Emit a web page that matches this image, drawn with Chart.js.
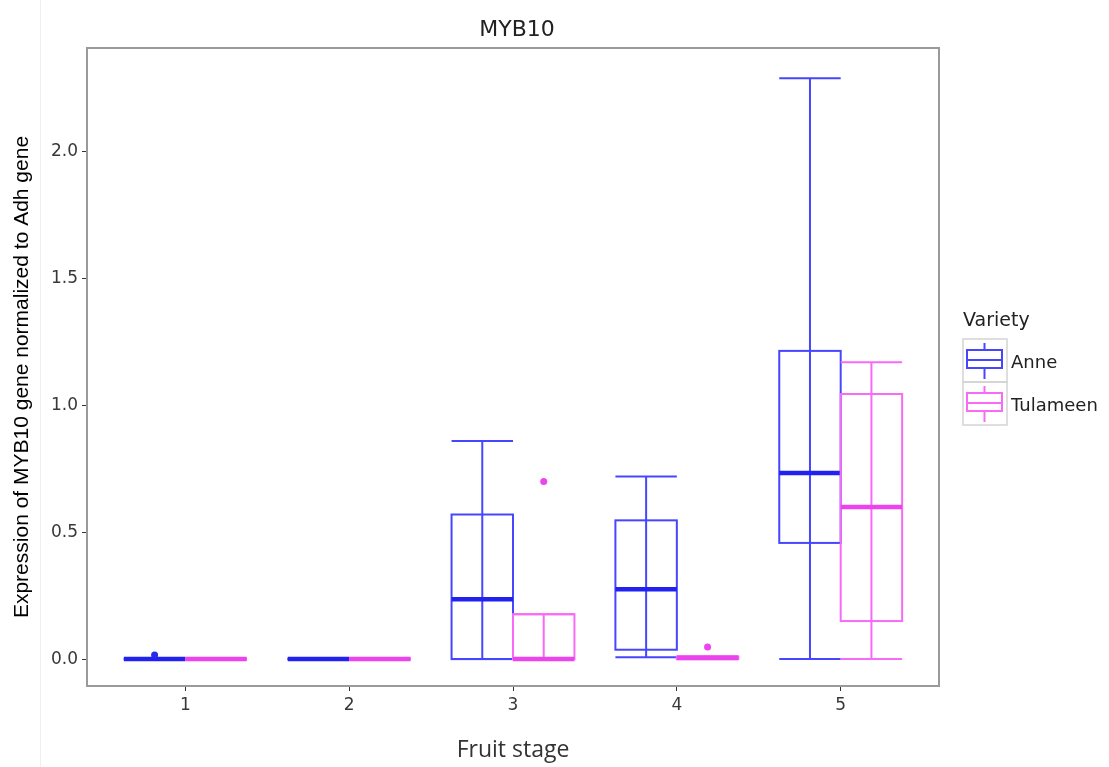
<!DOCTYPE html>
<html>
<head>
<meta charset="utf-8">
<script src="https://cdn.jsdelivr.net/npm/chart.js@4.4.0/dist/chart.umd.min.js"></script>
<style>
  body { margin: 0; background: #fff; }
  #wrap { position: relative; width: 1109px; height: 767px; }
  #edge { position: absolute; left: 40px; top: 0; width: 1px; height: 767px; background: #f0f0f0; }
  canvas { position: absolute; left: 0; top: 0; }
</style>
</head>
<body>
<div id="wrap">
  <div id="edge"></div>
  <canvas id="chart" width="1109" height="767"></canvas>
</div>
<script>
// stages on the x axis
const stages = [1, 2, 3, 4, 5];
const stageLabels = ['1', '2', '3', '4', '5'];
const yTicks = [0, 0.5, 1.0, 1.5, 2.0];
const varieties = ['Anne', 'Tulameen'];
const yTitle = 'Expression of MYB10 gene normalized to Adh gene';

// Anne box stats (whisker low, Q1, median, Q3, whisker high)
const anneMin = [0, 0, 0, 0.007, 0];
const anneQ1  = [0, 0, 0, 0.037, 0.458];
const anneMed = [0, 0, 0.236, 0.275, 0.734];
const anneQ3  = [0, 0, 0.570, 0.547, 1.215];
const anneMax = [0, 0, 0.860, 0.720, 2.290];
const anneOutStage = [1];
const anneOutVal = [0.016];

// Tulameen box stats
const tulMin = [0, 0, 0, 0, 0];
const tulQ1  = [0, 0, 0, 0, 0.150];
const tulMed = [0, 0, 0, 0.004, 0.600];
const tulQ3  = [0, 0, 0.177, 0.010, 1.045];
const tulMax = [0, 0, 0.177, 0.012, 1.170];
const tulOutStage = [3, 4];
const tulOutVal = [0.700, 0.048];

// look
const dodge = 0.1875;   // centre offset of each box from the stage
const halfW = 0.1875;   // half box width (x units)
const edgeCol = ['#4646ff', '#f86af8'];
const medCol = ['#2222f0', '#ec44ec'];
const ptCol = ['#2a2aee', '#ee44ee'];

const boxStats = [
  { min: anneMin, q1: anneQ1, med: anneMed, q3: anneQ3, max: anneMax },
  { min: tulMin, q1: tulQ1, med: tulMed, q3: tulQ3, max: tulMax }
];

function hline(ctx, x1, x2, y) { ctx.beginPath(); ctx.moveTo(x1, y); ctx.lineTo(x2, y); ctx.stroke(); }
function vline(ctx, x, y1, y2) { ctx.beginPath(); ctx.moveTo(x, y1); ctx.lineTo(x, y2); ctx.stroke(); }

// draws the boxes through the chart scales
const boxPlugin = {
  id: 'boxes',
  beforeDatasetsDraw(chart) {
    const ctx = chart.ctx;
    const xs = chart.scales.x, ys = chart.scales.y;
    ctx.save();
    ctx.lineCap = 'butt';
    stages.forEach((st, i) => {
      boxStats.forEach((b, v) => {
        const c = st + (v === 0 ? -dodge : dodge);
        const xl = xs.getPixelForValue(c - halfW);
        const xr = xs.getPixelForValue(c + halfW);
        const xc = xs.getPixelForValue(c);
        const yMin = ys.getPixelForValue(b.min[i]);
        const yQ1 = ys.getPixelForValue(b.q1[i]);
        const yMed = ys.getPixelForValue(b.med[i]);
        const yQ3 = ys.getPixelForValue(b.q3[i]);
        const yMax = ys.getPixelForValue(b.max[i]);
        ctx.strokeStyle = edgeCol[v];
        ctx.lineWidth = 2;
        vline(ctx, xc, yMin, yMax);
        hline(ctx, xl, xr, yMin);
        hline(ctx, xl, xr, yMax);
        ctx.strokeRect(xl, yQ3, xr - xl, yQ1 - yQ3);
        ctx.strokeStyle = medCol[v];
        ctx.lineWidth = 4.5;
        hline(ctx, xl, xr, yMed);
      });
    });
    ctx.restore();
  },
  afterDraw(chart) {
    const ctx = chart.ctx;
    const a = chart.chartArea;
    ctx.save();
    // panel frame
    ctx.strokeStyle = '#9a9a9a';
    ctx.lineWidth = 2;
    ctx.strokeRect(a.left, a.top, a.right - a.left, a.bottom - a.top);
    // title
    ctx.fillStyle = '#222';
    ctx.font = '22px "DejaVu Sans"';
    ctx.textAlign = 'center';
    ctx.textBaseline = 'middle';
    ctx.fillText('MYB10', (a.left + a.right) / 2 + 4, 30);
    // y axis title
    ctx.save();
    ctx.translate(22, 377);
    ctx.rotate(-Math.PI / 2);
    ctx.fillStyle = '#000';
    ctx.font = '21px "Liberation Sans"';
    ctx.fillText(yTitle, 0, 0);
    ctx.restore();
    // legend
    const lx = 963, ly = 339, kw = 44, kh = 43;
    ctx.textAlign = 'left';
    ctx.font = '19px "DejaVu Sans"';
    ctx.fillText('Variety', lx, 321);
    varieties.forEach((name, v) => {
      const top = ly + v * kh;
      ctx.strokeStyle = '#d4d4d4';
      ctx.lineWidth = 1.5;
      ctx.strokeRect(lx, top, kw, kh);
      ctx.strokeStyle = edgeCol[v];
      ctx.lineWidth = 2;
      const cx = lx + 21.5;
      vline(ctx, cx, top + 4, top + 11);
      vline(ctx, cx, top + 29, top + 40);
      ctx.strokeRect(lx + 4, top + 11, 35, 18);
      hline(ctx, lx + 4, lx + 39, top + 21);
      ctx.fillStyle = '#222';
      ctx.font = '18px "DejaVu Sans"';
      ctx.fillText(name, lx + 48, top + 24);
    });
    ctx.restore();
  }
};

const tickFont = { family: 'DejaVu Sans', size: 17 };

new Chart(document.getElementById('chart'), {
  type: 'scatter',
  data: {
    datasets: [
      {
        label: varieties[0],
        data: anneOutStage.map((s, k) => ({ x: s - dodge, y: anneOutVal[k] })),
        backgroundColor: ptCol[0],
        borderWidth: 0,
        pointRadius: 3.5
      },
      {
        label: varieties[1],
        data: tulOutStage.map((s, k) => ({ x: s + dodge, y: tulOutVal[k] })),
        backgroundColor: ptCol[1],
        borderWidth: 0,
        pointRadius: 3.5
      }
    ]
  },
  options: {
    responsive: false,
    devicePixelRatio: 1,
    animation: false,
    layout: { padding: { top: 48, right: 170, left: 0, bottom: 0 } },
    plugins: {
      legend: { display: false },
      title: { display: false },
      tooltip: { enabled: false }
    },
    scales: {
      x: {
        type: 'linear',
        min: 0.4,
        max: 5.6,
        afterBuildTicks: s => { s.ticks = stages.map(v => ({ value: v })); },
        afterFit: s => { s.height = 81; },
        ticks: {
          callback: v => stageLabels[stages.indexOf(v)],
          color: '#383838',
          font: tickFont,
          padding: 4,
          maxRotation: 0,
          autoSkip: false
        },
        grid: { display: true, drawOnChartArea: false, drawTicks: true, tickLength: 5, color: '#333', lineWidth: 1 },
        border: { display: false },
        title: {
          display: true,
          text: 'Fruit stage',
          color: '#333',
          font: { family: 'Open Sans', size: 23 },
          padding: { top: 0, bottom: 3 }
        }
      },
      y: {
        type: 'linear',
        min: -0.106,
        max: 2.409,
        afterBuildTicks: s => { s.ticks = yTicks.map(v => ({ value: v })); },
        afterFit: s => { s.width = 87; },
        ticks: {
          callback: v => v.toFixed(1),
          color: '#383838',
          font: tickFont,
          padding: 4
        },
        grid: { display: true, drawOnChartArea: false, drawTicks: true, tickLength: 5, color: '#333', lineWidth: 1 },
        border: { display: false },
        title: { display: false }
      }
    }
  },
  plugins: [boxPlugin]
});
</script>
</body>
</html>
